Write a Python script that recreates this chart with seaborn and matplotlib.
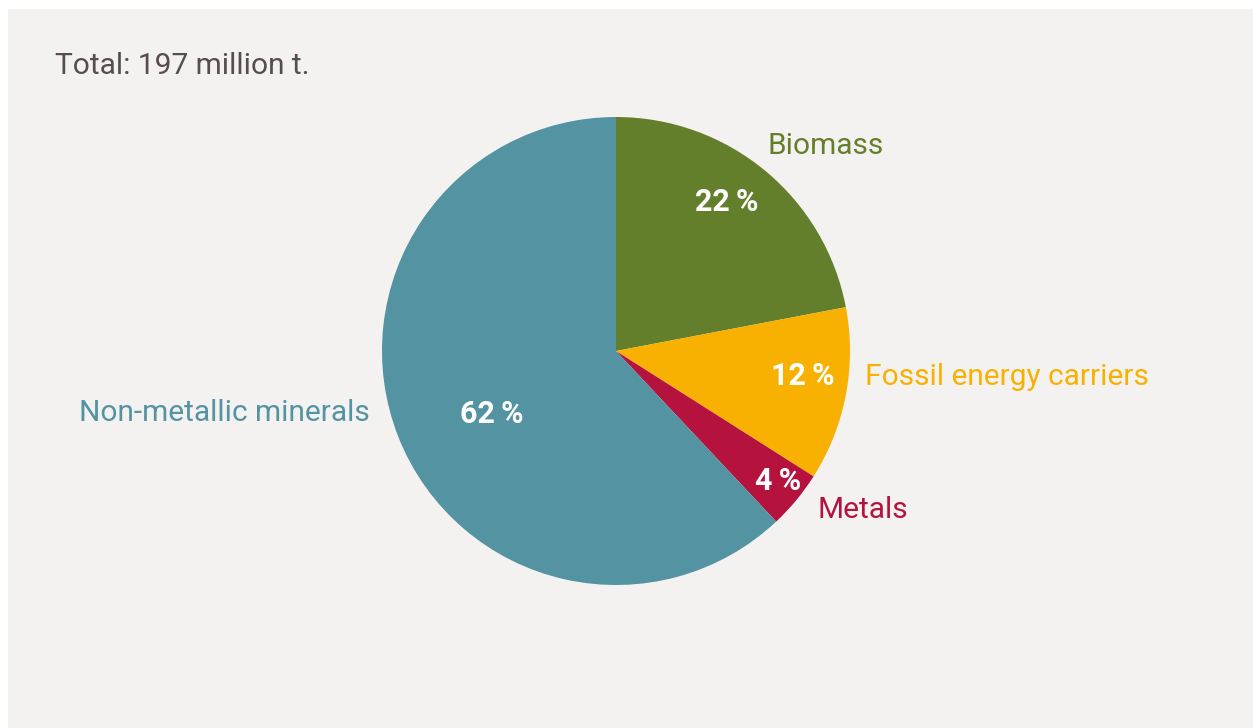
import matplotlib
matplotlib.use("Agg")
import matplotlib.pyplot as plt
from matplotlib.patches import Rectangle
import seaborn as sns

# Raw material composition (share in %)
categories = ["Biomass", "Fossil energy carriers", "Metals", "Non-metallic minerals"]
shares = [22, 12, 4, 62]
colors = ["#647f2c", "#f8b100", "#b5123e", "#5393a2"]
title_text = "Total: 197 million t."

sns.set_style("white")
plt.rcParams["font.family"] = ["Roboto", "DejaVu Sans"]

W, H = 1253, 728
fig = plt.figure(figsize=(W / 100, H / 100), dpi=100)
fig.patch.set_facecolor("white")

# light panel with a thin white margin at top and left
fig.patches.append(Rectangle((8 / W, 0), 1 - 8 / W, 1 - 9 / H,
                             transform=fig.transFigure, facecolor="#f3f2f0",
                             edgecolor="none", zorder=-10))

cx, cy, r = 616, 351, 234
ax = fig.add_axes([(cx - r) / W, (H - cy - r) / H, 2 * r / W, 2 * r / H])
ax.set_zorder(5)
ax.set_facecolor("none")

wedges, _ = ax.pie(shares, colors=colors, startangle=90, counterclock=False,
                   radius=1, wedgeprops=dict(linewidth=0))
ax.set_xlim(-1, 1)
ax.set_ylim(-1, 1)
ax.set_aspect("equal")
ax.axis("off")


def px(x, y):
    return ((x - cx) / r, (cy - y) / r)


# percentage labels inside slices
pct_pos = [(727, 202), (803, 376), (778, 481), (492, 414)]
for val, (x, y) in zip(shares, pct_pos):
    ax.text(*px(x, y), f"{val}\u2009%", color="white", fontsize=22,
            fontweight="bold", ha="center", va="center", clip_on=False)

# category labels outside the pie
cat_pos = [((767, 146), "left"), ((865, 377), "left"),
           ((818, 510), "left"), ((370, 413), "right")]
for name, col, ((x, y), ha) in zip(categories, colors, cat_pos):
    ax.text(*px(x, y), name, color=col, fontsize=21.5, ha=ha, va="center",
            clip_on=False)

fig.text(55 / W, 1 - 66 / H, title_text, color="#574c4e", fontsize=21.5,
         ha="left", va="center")

fig.savefig("out.png", dpi=100, facecolor=fig.get_facecolor())
